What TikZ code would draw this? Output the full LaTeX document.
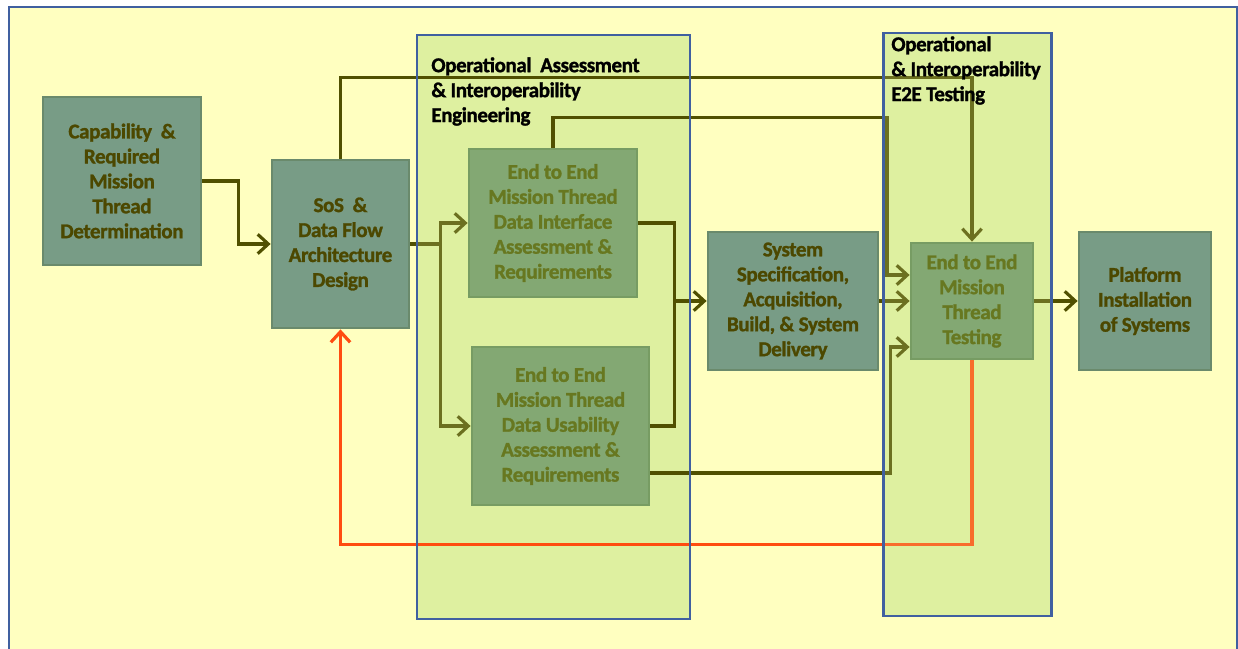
\documentclass[tikz,border=0pt]{standalone}
\usepackage{fontspec}
\setmainfont{Carlito}
\newfontfamily\heavyfont[FakeBold=1.3,LetterSpace=-2]{Carlito Bold}
\usepackage{tikz}
\usetikzlibrary{arrows.meta}
\definecolor{bgyellow}{RGB}{255,255,192}
\definecolor{grpfill}{RGB}{222,240,160}
\definecolor{grpblue}{RGB}{64,96,160}
\definecolor{boxgray}{RGB}{120,156,134}
\definecolor{boxgrayedge}{RGB}{106,138,108}
\definecolor{boxgreen}{RGB}{109,150,104}
\definecolor{boxgreenedge}{RGB}{94,135,84}
\definecolor{txtdark}{RGB}{76,72,0}
\definecolor{txtgreen}{RGB}{74,90,0}
\definecolor{flowline}{RGB}{80,80,0}
\definecolor{redflow}{RGB}{255,76,16}
\tikzset{stagebox/.style={draw=boxgrayedge,fill=boxgray,line width=1.6pt,inner sep=1pt,align=center,text=txtdark,font=\fontsize{12}{14.2}\selectfont\heavyfont},
e2ebox/.style={stagebox,draw=boxgreenedge,fill=boxgreen,text=txtgreen},
joint/.style={draw=flowline,line width=1.8pt},
flow/.style={joint,-{Straight Barb[length=6pt,width=11pt]}},
backflow/.style={flow,draw=redflow},
grouplabel/.style={anchor=north west,inner sep=0pt,align=left,font=\fontsize{12}{14.2}\selectfont\heavyfont}}

\begin{document}
\begin{tikzpicture}[x=0.02cm,y=-0.02cm]
\useasboundingbox (0,0) rectangle (1238,649);
\clip (0,0) rectangle (1238,649);
\fill[white] (0,0) rectangle (1238,649);
\draw[grpblue,line width=1.7pt,fill=bgyellow] (9,7) rectangle (1237,670);
\fill[grpfill] (417,35) rectangle (690,619);
\fill[grpfill] (883,33) rectangle (1051,616);

\node[stagebox,minimum width=2.74cm,minimum height=3.36cm] (sos) at (340.5,244) {SoS \ \&\\Data Flow\\Architecture\\Design};
\node[e2ebox,minimum width=3.36cm,minimum height=2.96cm] (intf) at (553,223) {End to End\\Mission Thread\\Data Interface\\Assessment \&\\Requirements};
\node[e2ebox,minimum width=3.54cm,minimum height=3.16cm] (usab) at (560.5,426) {End to End\\Mission Thread\\Data Usability\\Assessment \&\\Requirements};
\draw[joint] (sos.east) -- ++(30,0) coordinate (fork);
\draw[flow] (fork) |- (intf.west);
\draw[flow] (fork) |- (usab.west);
\fill[grpfill,fill opacity=.2] (417,35) rectangle (690,619);

\node[stagebox,minimum width=3.16cm,minimum height=3.36cm] (cap) at (122,181) {Capability \ \&\\Required\\Mission\\Thread\\Determination};
\node[stagebox,minimum width=3.4cm,minimum height=2.76cm] (sys) at (793,301) {System\\Specification,\\Acquisition,\\Build, \& System\\Delivery};
\node[e2ebox,minimum width=2.44cm,minimum height=2.32cm] (test) at (972,301) {End to End\\Mission\\Thread\\Testing};
\node[stagebox,minimum width=2.64cm,minimum height=2.76cm] (plat) at (1145,301) {Platform\\Installation\\of Systems};

\draw[flow] (cap.east) -- ++(36,0) |- (sos.west);
\draw[flow] (sos.north) -- ++(0,-81) -| (test.north);
\draw[flow] (intf.north) -- ++(0,-30) -- ++(334,0) |- ([yshift=0.52cm]test.west);
\draw[flow] (intf.east) -- ++(36,0) |- (sys.west);
\draw[joint] (usab.east) -- ++(24,0) -- ++(0,-125);
\draw[flow] ([yshift=-0.94cm]usab.east) -- ++(240,0) |- ([yshift=-0.92cm]test.west);
\draw[flow] (sys.east) -- (test.west);
\draw[flow] (test.east) -- (plat.west);
\draw[backflow] (test.south) -- ++(0,184) -| (sos.south);
\fill[grpfill,fill opacity=.2] (883,33) rectangle (1051,616);

\draw[grpblue,line width=1.7pt] (417,35) rectangle (690,619) (883,33) rectangle (1051,616);
\node[grouplabel] (oaie) at (431,57) {Operational \ Assessment\\\& Interoperability\\Engineering};
\node[grouplabel] (oie2e) at (891,36) {Operational\\\& Interoperability\\E2E Testing};
\end{tikzpicture}
\end{document}
